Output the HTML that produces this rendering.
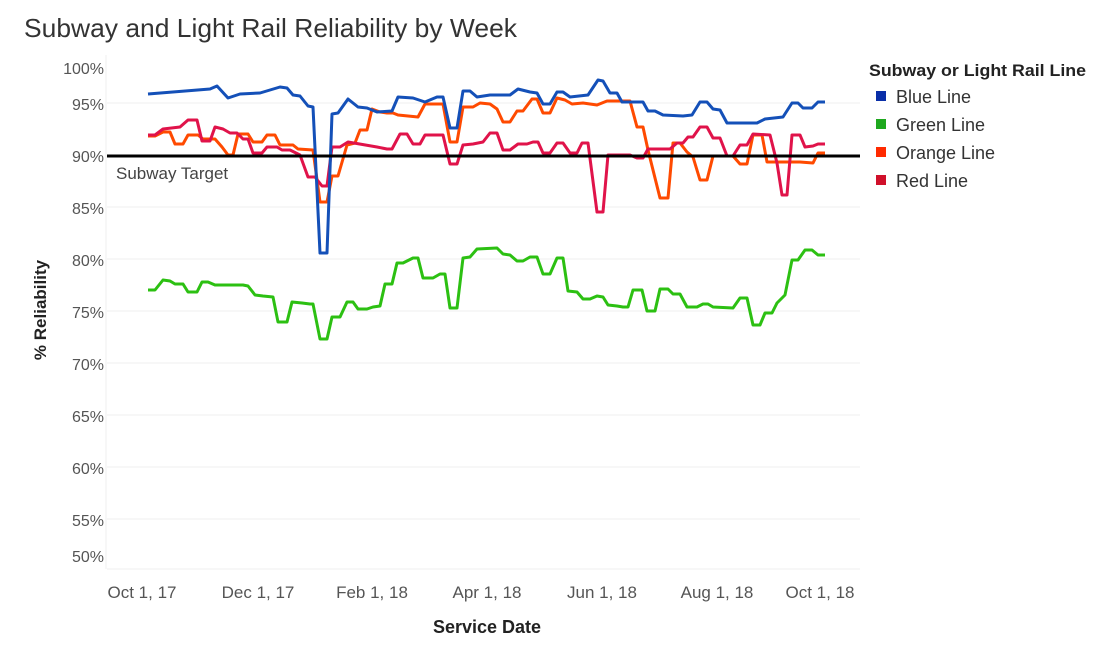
<!DOCTYPE html>
<html><head><meta charset="utf-8"><style>
html,body{margin:0;padding:0;background:#fff;}
svg{display:block;font-family:"Liberation Sans",sans-serif;}
</style></head><body>
<svg width="1113" height="647" viewBox="0 0 1113 647" xmlns="http://www.w3.org/2000/svg">
<text x="24" y="37" font-size="26" fill="#333" textLength="493" lengthAdjust="spacingAndGlyphs">Subway and Light Rail Reliability by Week</text>
<g stroke="#efefef" stroke-width="1">
<line x1="107" y1="103" x2="860" y2="103"/><line x1="107" y1="155" x2="860" y2="155"/>
<line x1="107" y1="207" x2="860" y2="207"/><line x1="107" y1="259" x2="860" y2="259"/>
<line x1="107" y1="311" x2="860" y2="311"/><line x1="107" y1="363" x2="860" y2="363"/>
<line x1="107" y1="415" x2="860" y2="415"/><line x1="107" y1="467" x2="860" y2="467"/>
<line x1="107" y1="519" x2="860" y2="519"/>
<line x1="107" y1="569" x2="860" y2="569"/>
<line x1="106" y1="55" x2="106" y2="569"/>
</g>
<g font-size="16" fill="#555" text-anchor="end">
<text x="104" y="74">100%</text><text x="104" y="110">95%</text><text x="104" y="162">90%</text>
<text x="104" y="214">85%</text><text x="104" y="266">80%</text><text x="104" y="318">75%</text>
<text x="104" y="370">70%</text><text x="104" y="422">65%</text><text x="104" y="474">60%</text>
<text x="104" y="526">55%</text><text x="104" y="562">50%</text>
</g>
<g font-size="17" fill="#555" text-anchor="middle">
<text x="142" y="598">Oct 1, 17</text><text x="258" y="598">Dec 1, 17</text>
<text x="372" y="598">Feb 1, 18</text><text x="487" y="598">Apr 1, 18</text>
<text x="602" y="598">Jun 1, 18</text><text x="717" y="598">Aug 1, 18</text>
<text x="820" y="598">Oct 1, 18</text>
</g>
<text x="487" y="633" font-size="18" font-weight="bold" text-anchor="middle" fill="#222">Service Date</text>
<text transform="translate(46,310) rotate(-90)" font-size="17" font-weight="bold" text-anchor="middle" fill="#222">% Reliability</text>
<g fill="none" stroke-width="3" stroke-linejoin="round">
<polyline stroke="#2cc012" points="148,290 155,290 163,280 170,281 175,284 183,284 188,292 197,292 202,282 208,282 215,285 243,285 248,286 255,295 263,296 273,297 278,322 287,322 292,302 302,303 310,304 313,304 320,339 327,339 332,317 340,317 347,302 353,302 358,309 367,309 373,307 380,306 385,284 392,284 397,263 403,263 413,258 418,258 423,278 433,278 440,274 445,274 450,308 457,308 463,258 470,257 477,249 497,248 503,254 510,255 517,261 523,261 530,257 537,257 543,274 550,274 557,258 563,258 568,291 577,292 583,299 590,299 597,296 603,297 608,305 617,306 623,307 628,307 633,290 642,290 647,311 655,311 660,289 668,289 673,294 680,294 687,307 697,307 703,304 708,304 713,307 733,308 740,298 747,298 753,325 760,325 765,313 772,313 777,303 785,295 792,260 798,260 805,250 812,250 818,255 825,255"/>
<polyline stroke="#ff4a00" points="148,136 155,136 163,132 170,132 175,144 183,144 188,135 198,135 203,139 215,139 222,147 228,155 233,155 238,134 248,134 253,142 262,142 267,135 275,135 280,145 293,145 298,149 313,150 320,202 327,202 332,176 338,176 347,145 355,143 360,130 367,130 372,109 380,112 387,113 393,113 398,115 418,117 425,104 443,104 450,142 457,142 463,107 473,107 480,103 490,104 497,109 503,122 510,122 517,111 523,111 532,99 537,99 543,113 550,113 557,98 565,100 572,104 583,103 597,105 607,101 630,101 637,127 643,127 648,150 660,198 668,198 673,143 680,143 687,152 693,157 700,180 707,180 713,156 733,156 740,164 747,164 753,135 762,135 767,162 777,162 800,162 813,163 818,153 825,153"/>
<polyline stroke="#e0134a" points="148,135 155,135 163,129 180,127 188,120 197,120 202,141 210,141 215,127 223,129 230,133 237,133 243,139 248,139 253,153 262,153 267,147 277,147 282,150 290,150 300,155 308,177 315,177 322,186 327,186 332,147 340,147 348,142 377,147 387,149 392,149 400,134 407,134 413,144 420,144 425,135 443,135 450,164 457,164 463,145 473,144 483,142 490,133 497,133 503,150 510,150 518,144 527,144 533,142 538,142 543,153 550,153 557,143 563,143 570,153 577,153 582,143 588,143 597,212 603,212 608,155 630,155 637,158 643,158 648,149 670,149 677,143 683,143 688,137 693,137 700,127 707,127 713,138 720,138 727,156 733,156 740,145 747,145 753,134 770,135 777,163 782,195 787,195 792,135 800,135 805,147 813,146 818,144 825,144"/>
<polyline stroke="#1450b8" points="148,94 210,89 217,86 228,98 240,94 260,93 280,87 287,88 293,95 300,96 308,106 313,107 320,253 327,253 332,114 338,113 348,99 358,107 367,108 377,112 392,111 398,97 413,98 425,102 437,97 443,97 450,128 457,128 463,91 470,91 477,97 490,95 510,95 518,89 530,92 537,93 543,104 550,104 557,92 563,92 570,97 588,95 598,80 603,81 610,93 617,93 622,102 643,102 648,111 655,111 663,115 683,116 692,115 700,102 707,102 713,109 720,110 727,123 757,123 765,119 783,117 792,103 798,103 803,108 812,108 818,102 825,102"/>
</g>
<line x1="107" y1="156" x2="860" y2="156" stroke="#000" stroke-width="3"/>
<text x="116" y="179" font-size="17" fill="#444">Subway Target</text>
<text x="869" y="76" font-size="17" font-weight="bold" fill="#222" textLength="217" lengthAdjust="spacingAndGlyphs">Subway or Light Rail Line</text>
<rect x="876" y="91" width="10" height="10" fill="#0a2fa8"/>
<rect x="876" y="119" width="10" height="10" fill="#1ea81e"/>
<rect x="876" y="147" width="10" height="10" fill="#ff2a00"/>
<rect x="876" y="175" width="10" height="10" fill="#d0102a"/>
<g font-size="18" fill="#333">
<text x="896" y="103">Blue Line</text><text x="896" y="131">Green Line</text>
<text x="896" y="159">Orange Line</text><text x="896" y="187">Red Line</text>
</g>
</svg>
</body></html>
